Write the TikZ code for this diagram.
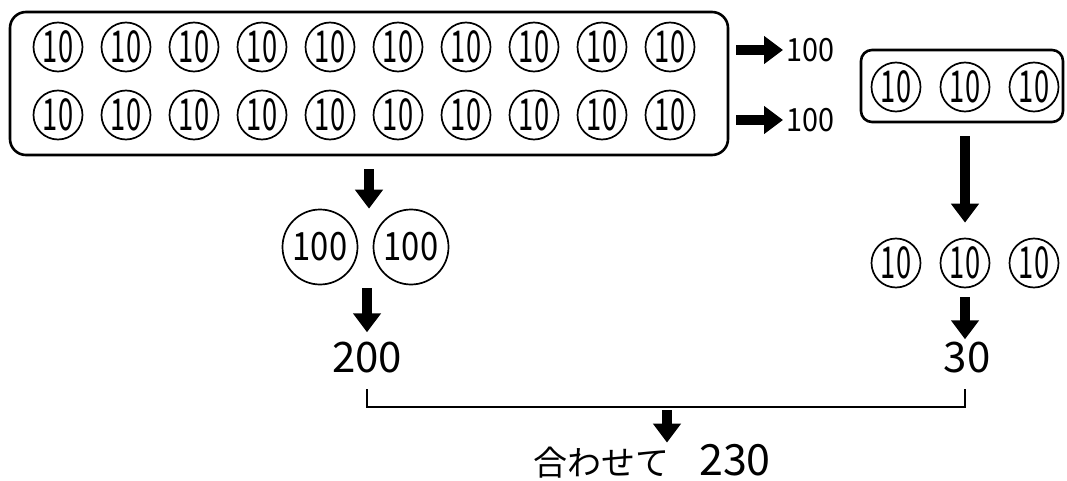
\documentclass[tikz,border=0pt]{standalone}
\usepackage{fontspec}
\setmainfont{Noto Sans CJK JP}
\usetikzlibrary{arrows.meta,positioning}
\tikzset{
  ten/.style={draw,circle,line width=1.7pt,minimum size=49pt,inner sep=0pt,font=\fontsize{44}{44}\selectfont},
  hund/.style={draw,circle,line width=1.7pt,minimum size=75pt,inner sep=0pt,font=\fontsize{39}{39}\selectfont},
  coinbox/.style={draw,rounded corners=16pt,line width=2.6pt,inner sep=0pt},
  bigarrow/.style={line width=10.5pt,-{Triangle[width=27pt,length=19pt]}},
  sumnum/.style={inner sep=0pt,font=\fontsize{42}{42}\selectfont},
  smallnum/.style={inner sep=0pt,font=\fontsize{32}{32}\selectfont},
}
\newcommand{\slim}[2][0.62]{\scalebox{#1}[1]{#2}}
\begin{document}
\begin{tikzpicture}[x=1pt,y=-1pt]
	\useasboundingbox (0,0) rectangle (1067,481);
	% twenty tens
	\node[coinbox,minimum width=718pt,minimum height=143pt] (bigbox) at (369,83.5) {};
	\foreach \i in {0,...,9} {
		\node[ten] (a\i) at (58+68*\i,47) {\slim{10}};
		\node[ten] (b\i) at (58+68*\i,115) {\slim{10}};
	}
	\node[smallnum,anchor=west] (r1) at (786,50) {\slim[0.9]{100}};
	\node[smallnum,anchor=west] (r2) at (786,120) {\slim[0.9]{100}};
	\draw[bigarrow,shorten <=7pt,shorten >=3pt] (bigbox.east |- r1) -- (r1.west);
	\draw[bigarrow,shorten <=7pt,shorten >=3pt] (bigbox.east |- r2) -- (r2.west);
	% three tens
	\node[coinbox,rounded corners=11pt,minimum width=202pt,minimum height=72pt] (sbox) at (962,86) {};
	\foreach \i in {0,1,2}
		\node[ten] (s\i) at (896+69*\i,87) {\slim{10}};
	% hundreds
	\node[hund] (h1) at (320,247) {\slim[0.84]{100}};
	\node[hund] (h2) at (411,247) {\slim[0.84]{100}};
	\node[sumnum] (t200) at (367,358) {200};
	\draw[bigarrow,shorten <=13pt] (bigbox.south) -- (bigbox.south |- h1.north);
	\draw[bigarrow,shorten <=3pt,shorten >=10pt] (t200 |- h1.south) -- (t200.north);
	% tens
	\foreach \i in {0,1,2}
		\node[ten] (c\i) at (896+69*\i,263) {\slim{10}};
	\node[sumnum] (t30) at (967,358) {30};
	\draw[bigarrow,shorten <=13pt,shorten >=15pt] (sbox.south -| c1) -- (c1.north);
	\draw[bigarrow,shorten <=9pt,shorten >=3pt] (c1.south) -- (t30.north -| c1);
	% together
	\coordinate (join) at (667,407);
	\draw[line width=2pt] (367,389) -- (367 ,407) -- (965,407) -- (965,389);
	\node[inner sep=0pt,anchor=base] (total) at (652,475)
		{{\fontsize{34}{34}\selectfont 合わせて}\hspace{30pt}{\fontsize{43}{43}\selectfont 230}};
	\draw[bigarrow,shorten <=3pt,shorten >=1pt] (join) -- (join |- total.north);
\end{tikzpicture}
\end{document}
